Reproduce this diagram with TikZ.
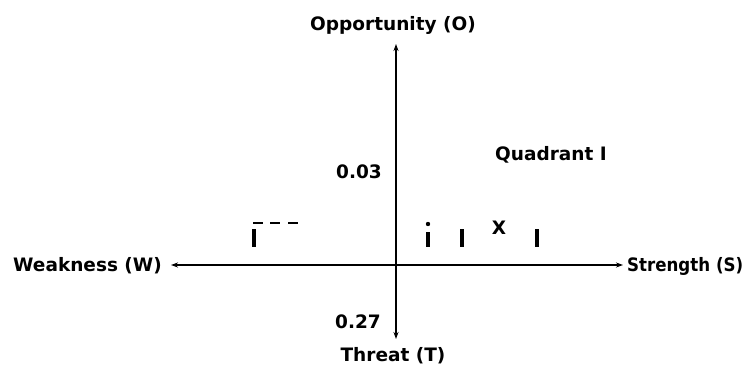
\documentclass[tikz,border=0pt]{standalone}
\usepackage{fontspec}
\setmainfont{DejaVu Sans}
\usetikzlibrary{arrows.meta}
\begin{document}
\begin{tikzpicture}[x=1pt,y=-1pt,
  lbl/.style={font=\bfseries\fontsize{18.5}{22}\selectfont, inner sep=0pt},
  axis/.style={line width=1.1pt, -{Stealth[length=7pt,width=5pt]}},
  bar/.style={line width=4pt},
  dashmark/.style={line width=2.2pt}]
\useasboundingbox (0,0) rectangle (752,369);
\coordinate (c) at (396,265);
\coordinate (top) at (396,44);
\coordinate (bot) at (396,339);
\coordinate (left) at (171,265);
\coordinate (right) at (623,265);
\draw[axis] (c) -- (top);
\draw[axis] (c) -- (bot);
\draw[axis] (c) -- (left);
\draw[axis] (c) -- (right);
\node[lbl] (O) at (393,25) {Opportunity (O)};
\node[lbl] (T) at (393,356) {Threat (T)};
\node[lbl, anchor=east] (W) at (162,266) {Weakness (W)};
\node[lbl, anchor=west, xscale=0.9] (S) at (627,266) {Strength (S)};
\node[lbl] (v1) at (359,172) {0.03};
\node[lbl] (v2) at (358,322) {0.27};
\node[lbl] (Q) at (551,155) {Quadrant I};
\node[lbl] (X) at (499,228) {X};
\draw[bar] (254,229) -- (254,247);
\draw[dashmark] (253,223) -- (263,223);
\draw[dashmark] (270,223) -- (280,223);
\draw[dashmark] (288,223) -- (298,223);
\draw[bar] (428,232) -- (428,247);
\fill (428,224) circle (2.2pt);
\draw[bar] (462,229) -- (462,247);
\draw[bar] (537,229) -- (537,247);
\end{tikzpicture}
\end{document}
